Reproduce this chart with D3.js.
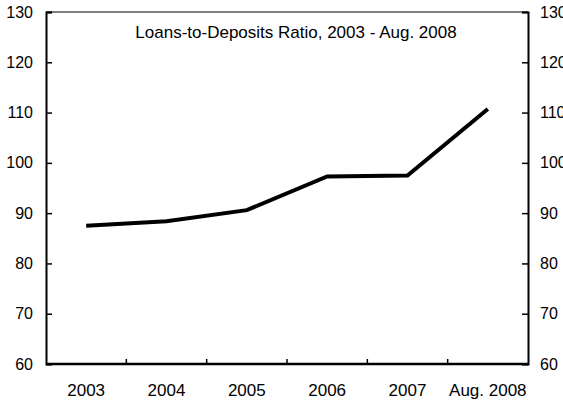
<!DOCTYPE html>
<html>
<head>
<meta charset="utf-8">
<script src="https://cdn.jsdelivr.net/npm/d3@7"></script>
<style>
  body { margin: 0; background: #fff; }
  text { font-family: "Liberation Sans", Arial, sans-serif; fill: #000; }
</style>
</head>
<body>
<div id="chart"></div>
<script>
const categories = ["2003", "2004", "2005", "2006", "2007", "Aug. 2008"];
const ratioValues = [87.5, 88.4, 90.6, 97.3, 97.5, 110.7];
const yTicks = [60, 70, 80, 90, 100, 110, 120, 130];
const chartTitle = "Loans-to-Deposits Ratio, 2003 - Aug. 2008";

const margin = { top: 12, right: 35, bottom: 38, left: 46 },
    width = 563 - margin.left - margin.right,
    height = 402 - margin.top - margin.bottom;

const svg = d3.select("#chart")
    .append("svg")
    .attr("width", 563)
    .attr("height", 402)
    .append("g")
    .attr("transform", `translate(${margin.left},${margin.top})`);

const x = d3.scaleBand()
    .domain(categories)
    .range([0, width]);

const y = d3.scaleLinear()
    .domain([60, 130])
    .range([height, 0]);

// top border
svg.append("line")
    .attr("x1", 0).attr("x2", width)
    .attr("y1", 0).attr("y2", 0)
    .attr("stroke", "#000")
    .attr("stroke-width", 1);

// left axis, ticks pointing in
const left = svg.append("g")
    .call(d3.axisRight(y).tickValues(yTicks).tickSize(6).tickFormat(""));
left.select(".domain").attr("stroke-width", 2);
left.selectAll(".tick line").attr("stroke-width", 1.5);
svg.append("g").selectAll("text")
    .data(yTicks)
    .enter().append("text")
    .attr("x", -13)
    .attr("y", d => y(d))
    .attr("dy", "0.35em")
    .attr("text-anchor", "end")
    .style("font-size", "16px")
    .text(d => d);

// right axis, ticks pointing in
const right = svg.append("g")
    .attr("transform", `translate(${width},0)`)
    .call(d3.axisLeft(y).tickValues(yTicks).tickSize(6).tickFormat(""));
right.select(".domain").attr("stroke-width", 2);
right.selectAll(".tick line").attr("stroke-width", 1.5);
svg.append("g").selectAll("text")
    .data(yTicks)
    .enter().append("text")
    .attr("x", width + 12)
    .attr("y", d => y(d))
    .attr("dy", "0.35em")
    .attr("text-anchor", "start")
    .style("font-size", "16px")
    .text(d => d);

// bottom axis: ticks on category boundaries, pointing up
const bottom = svg.append("g")
    .attr("transform", `translate(0,${height})`);
bottom.append("line")
    .attr("x1", 0).attr("x2", width)
    .attr("stroke", "#000")
    .attr("stroke-width", 2.5);
bottom.selectAll(".bnd")
    .data(categories.slice(1))
    .enter().append("line")
    .attr("x1", d => x(d)).attr("x2", d => x(d))
    .attr("y1", 0).attr("y2", -5)
    .attr("stroke", "#000")
    .attr("stroke-width", 1.5);
bottom.selectAll(".lbl")
    .data(categories)
    .enter().append("text")
    .attr("x", d => x(d) + x.bandwidth() / 2)
    .attr("y", 32)
    .attr("text-anchor", "middle")
    .style("font-size", "17px")
    .text(d => d);

// line
const line = d3.line()
    .x((d, i) => x(categories[i]) + x.bandwidth() / 2)
    .y(d => y(d));

svg.append("path")
    .datum(ratioValues)
    .attr("fill", "none")
    .attr("stroke", "#000")
    .attr("stroke-width", 4)
    .attr("d", line);

svg.append("text")
    .attr("x", 250)
    .attr("y", 26)
    .attr("text-anchor", "middle")
    .style("font-size", "17px")
    .text(chartTitle);
</script>
</body>
</html>
